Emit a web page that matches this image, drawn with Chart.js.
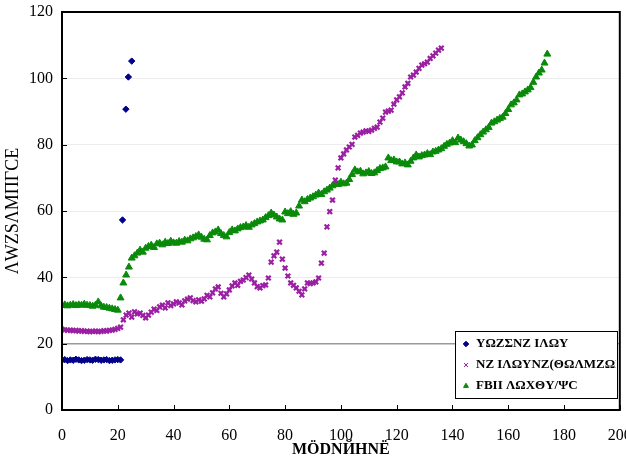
<!DOCTYPE html>
<html>
<head>
<meta charset="utf-8">
<script src="https://cdn.jsdelivr.net/npm/chart.js@4/dist/chart.umd.min.js"></script>
<style>
  html, body { margin: 0; padding: 0; background: #fff; }
  #wrap { width: 626px; height: 459px; }
</style>
</head>
<body>
<div id="wrap"><canvas id="chart" width="626" height="459"></canvas></div>
<script>
  // tick values
  const xTicks = [0, 20, 40, 60, 80, 100, 120, 140, 160, 180, 200];
  const yTicks = [0, 20, 40, 60, 80, 100, 120];

  // labels (as printed in the picture)
  const seriesNames = ["YΩZΣNZ ΙΛΩY", "NZ ΙΛΩYNZ(ΘΩΛMZΩΙ) ΙΛEΙΓΩR", "FBΙΙ ΛΩXΘY/ΨC"];
  const xTitle = "MÖDNЙHNË";
  const yTitle = "ΛWZSΛMΠΓCE";

  // series 1 (blue diamonds)
  const blueX = [0,1,2,3,4,5,6,7,8,9,10,11,12,13,14,15,16,17,18,19,20,21,21.7,22.9,23.8,25];
  const blueY = [15.0,15.2,14.9,15.1,15.0,15.3,15.1,14.9,15.0,15.2,15.1,15.0,15.3,15.2,15.0,15.1,15.2,14.9,15.0,15.1,15.2,15.1,57.3,90.7,100.4,105.2];

  // series 2 (purple crosses)
  const purpleY = [24.3,24.2,24.0,24.1,23.9,24.0,23.8,23.9,23.7,23.8,23.6,23.7,23.8,23.6,23.7,23.9,23.8,24.0,24.1,24.3,
    24.6,25.0,27.2,28.6,29.2,28.0,29.6,29.0,29.2,28.5,27.8,28.6,29.5,30.4,30.0,31.1,31.6,30.8,32.3,31.5,
    32.0,32.6,32.3,31.7,32.9,33.4,33.8,33.0,32.6,33.2,32.8,33.5,34.6,34.1,35.3,36.5,37.1,35.2,34.1,35.0,
    36.2,37.4,38.3,37.6,38.8,39.2,39.9,40.7,39.5,38.3,37.2,36.8,37.5,37.7,39.8,44.6,46.5,47.6,50.6,45.5,
    42.8,40.4,38.3,37.6,36.8,35.8,34.7,36.5,38.3,38.1,38.3,38.6,39.8,44.3,47.3,55.2,59.8,63.3,69.3,73.0,
    76.0,77.2,78.4,79.3,80.1,82.3,82.8,83.5,83.8,84.2,84.0,84.4,84.9,85.3,86.8,88.0,89.8,90.1,90.4,92.2,
    93.5,94.4,95.6,97.4,98.5,100.4,101.0,101.9,103.0,104.0,104.4,104.9,106.0,106.8,107.6,108.5,109.1];

  // series 3 (green triangles)
  const greenY = [31.5,31.7,31.4,31.6,31.8,31.5,31.7,31.6,31.9,31.6,31.5,31.3,31.6,32.6,31.4,31.0,30.9,30.7,30.5,30.3,
    30.1,33.8,38.3,40.7,43.1,45.8,46.5,47.3,48.2,47.6,48.8,49.3,49.7,49.0,50.1,50.3,49.8,50.6,50.2,50.9,
    50.4,50.3,50.8,50.6,51.2,51.0,51.6,51.9,52.3,52.8,52.1,51.5,51.3,52.6,53.4,53.7,54.3,53.2,52.6,52.2,
    53.5,54.3,54.0,54.6,55.0,55.2,55.6,55.1,55.8,56.2,56.7,57.0,57.3,58.0,58.6,59.4,58.8,58.2,57.6,57.3,
    59.7,59.2,59.8,59.0,59.4,61.5,63.3,62.8,63.5,63.9,64.3,64.8,65.4,65.0,65.8,66.3,66.9,67.6,68.4,68.0,
    68.7,68.2,68.4,69.5,71.0,72.4,71.8,72.0,71.2,71.5,71.9,71.3,71.5,72.2,72.8,73.0,73.3,76.0,75.2,75.4,
    74.8,74.8,74.2,74.5,73.9,75.0,76.0,76.9,76.3,76.7,76.9,77.3,77.0,77.8,78.0,78.4,78.8,79.5,80.1,80.5,
    81.2,80.6,82.0,81.4,80.9,80.3,79.6,79.9,81.2,82.1,83.0,83.8,84.5,85.2,86.5,86.9,87.4,87.9,88.3,89.4,
    90.6,92.0,92.6,93.5,95.0,95.3,95.9,96.5,97.2,98.8,100.4,101.6,102.5,104.6,107.3];

  const colors = ['#00008b', '#9b1fa3', '#0a8a0a'];
  const shapes = ['rectRot', 'crossRot', 'triangle'];
  const radii = [3.2, 3.3, 4];
  const widths = [1, 2.2, 1];

  function pts(xs, ys) {
    return ys.map((y, i) => ({ x: xs ? xs[i] : i, y: y }));
  }

  const serif = "'Liberation Serif', 'DejaVu Serif', serif";

  // frame, inner ticks and legend box
  const framePlugin = {
    id: 'frame',
    afterDatasetsDraw(chart) {
      const { ctx, chartArea: a, scales } = chart;
      ctx.save();
      ctx.strokeStyle = '#000';
      ctx.lineWidth = 1;
      ctx.beginPath();
      xTicks.forEach(v => {
        const px = Math.round(scales.x.getPixelForValue(v)) + 0.5;
        ctx.moveTo(px, a.bottom);
        ctx.lineTo(px, a.bottom - 5);
      });
      yTicks.forEach(v => {
        const py = Math.round(scales.y.getPixelForValue(v)) + 0.5;
        ctx.moveTo(a.left, py);
        ctx.lineTo(a.left + 5, py);
      });
      ctx.stroke();
      ctx.lineWidth = 2;
      ctx.strokeRect(a.left, a.top, a.right - a.left, a.bottom - a.top);

      // legend
      const bx = 455, by = 331, bw = 162, bh = 67;
      ctx.fillStyle = '#fff';
      ctx.fillRect(bx, by, bw, bh);
      ctx.lineWidth = 1;
      ctx.strokeStyle = '#000';
      ctx.strokeRect(bx + 0.5, by + 0.5, bw, bh);
      ctx.beginPath();
      ctx.rect(bx + 1, by + 1, bw - 2, bh - 2);
      ctx.clip();
      ctx.font = 'bold 13px ' + serif;
      ctx.textBaseline = 'middle';
      seriesNames.forEach((name, i) => {
        const cy = by + 13 + i * 21;
        ctx.fillStyle = colors[i];
        ctx.strokeStyle = colors[i];
        Chart.helpers.drawPoint(ctx, {
          pointStyle: shapes[i], radius: 2.8, borderWidth: i === 1 ? 1.8 : 1, rotation: 0
        }, 466, cy);
        ctx.fillStyle = '#000';
        ctx.fillText(name, 476, cy);
      });
      ctx.restore();
    }
  };

  const ctx = document.getElementById('chart').getContext('2d');
  new Chart(ctx, {
    type: 'scatter',
    data: {
      datasets: [
        { label: seriesNames[0], data: pts(blueX, blueY) },
        { label: seriesNames[1], data: pts(null, purpleY) },
        { label: seriesNames[2], data: pts(null, greenY) }
      ].map((d, i) => Object.assign(d, {
        pointStyle: shapes[i],
        backgroundColor: colors[i],
        borderColor: colors[i],
        pointRadius: radii[i],
        borderWidth: widths[i]
      }))
    },
    options: {
      responsive: false,
      animation: false,
      layout: { padding: { top: 12, right: 6, left: 0, bottom: 0 } },
      plugins: { legend: { display: false }, tooltip: { enabled: false } },
      scales: {
        x: {
          type: 'linear', min: 0, max: 200,
          afterBuildTicks: s => { s.ticks = xTicks.map(v => ({ value: v })); },
          ticks: { color: '#000', padding: 16, font: { family: serif, size: 16 } },
          grid: { display: false, drawTicks: false },
          border: { display: false },
          title: { display: true, text: xTitle, color: '#000', padding: { top: 0, bottom: 0 },
                   font: { family: serif, size: 16, weight: 'bold' } },
          afterFit: s => { s.height = 49; s.paddingLeft = 0; s.paddingRight = 0; }
        },
        y: {
          min: 0, max: 120,
          afterBuildTicks: s => { s.ticks = yTicks.map(v => ({ value: v })); },
          ticks: { color: '#000', padding: 9, font: { family: serif, size: 16 } },
          grid: {
            drawTicks: false,
            color: c => c.tick && c.tick.value === 20 ? '#9a9a9a' : '#ececec',
            lineWidth: c => c.tick && c.tick.value === 20 ? 1.5 : 1
          },
          border: { display: false },
          title: { display: true, text: yTitle, color: '#000', padding: { top: 2, bottom: 0 },
                   font: { family: serif, size: 18 } },
          afterFit: s => { s.width = 62; s.paddingTop = 0; s.paddingBottom = 0; }
        }
      }
    },
    plugins: [framePlugin]
  });
</script>
</body>
</html>
